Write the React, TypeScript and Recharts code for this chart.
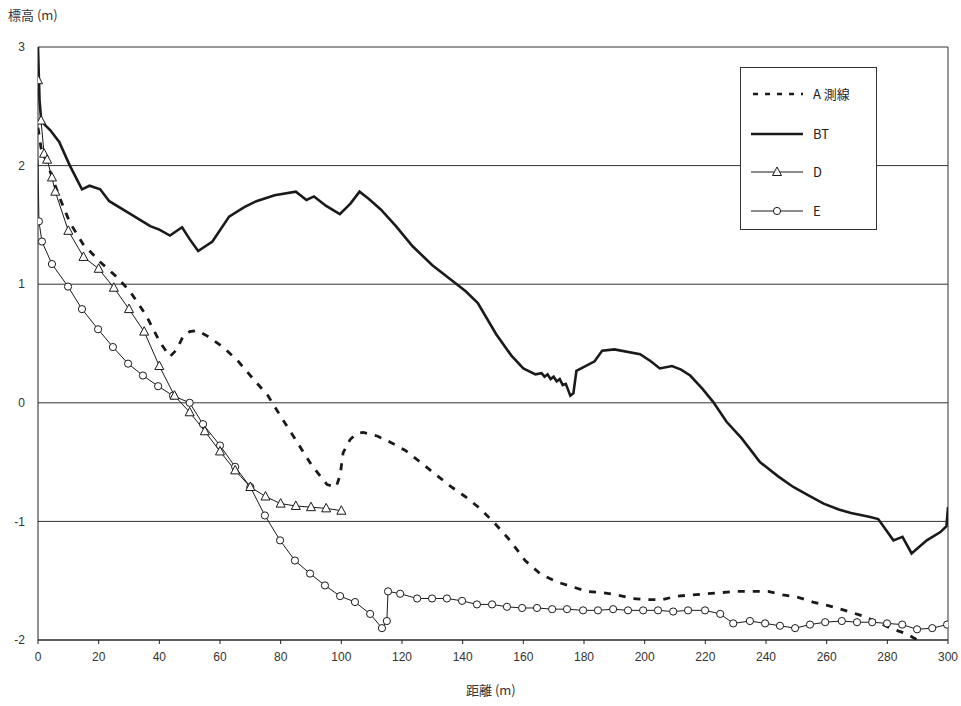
import { LineChart, Line, XAxis, YAxis, CartesianGrid, ReferenceLine, Legend } from 'recharts';

// 距離 (m) の目盛りと 標高 (m) の目盛り
const xTicks = [0, 20, 40, 60, 80, 100, 120, 140, 160, 180, 200, 220, 240, 260, 280, 300];
const yTicks = [-2, -1, 0, 1, 2, 3];

// A 測線 (破線)
const aDist = [0, 1, 4, 7.3, 10.5, 14.8, 20.4, 26, 30.3, 35.6, 40.2, 43.5, 45.8, 47.8, 50, 52.4, 56, 61, 66, 71, 75.8, 80.4, 85.4, 90.3, 95.3, 98.3, 99.6, 100.6, 102.9, 105, 107.2, 111.8, 116, 121, 126, 130.9, 135.8, 140.8, 145.7, 150.7, 155.6, 160.6, 165.5, 171, 176, 181, 186, 191, 196, 200.8, 205.7, 210.7, 215.6, 220.6, 225.5, 230.5, 235.7, 240.7, 245.6, 250.6, 255.5, 260.5, 266, 271, 276, 281, 286.5, 292];
const aElev = [2.32, 2.15, 1.95, 1.72, 1.52, 1.34, 1.19, 1.06, 0.94, 0.74, 0.51, 0.39, 0.45, 0.56, 0.6, 0.61, 0.56, 0.47, 0.35, 0.2, 0.06, -0.13, -0.33, -0.53, -0.69, -0.71, -0.61, -0.42, -0.31, -0.26, -0.25, -0.28, -0.33, -0.4, -0.5, -0.6, -0.7, -0.79, -0.89, -1.02, -1.16, -1.33, -1.44, -1.51, -1.55, -1.59, -1.6, -1.62, -1.65, -1.66, -1.66, -1.63, -1.62, -1.61, -1.6, -1.59, -1.59, -1.59, -1.62, -1.64, -1.68, -1.71, -1.75, -1.79, -1.84, -1.9, -1.95, -2.03];

// BT (太線)
const btDist = [0, 0.5, 1, 2, 4, 7, 10.5, 14.5, 17, 20.5, 23.5, 30, 37, 40, 43.5, 47.5, 50, 52.8, 57.5, 63, 68, 72, 78, 85, 88.5, 91, 95, 99.5, 103, 106, 109, 113, 118, 123.5, 130, 137, 141, 145, 151, 156, 160, 164, 166, 167, 168, 169, 170, 171, 172, 173, 174, 175.5, 176.5, 177.5, 183.5, 186, 190, 198.5, 202, 205, 209, 212, 215, 219, 222.5, 227, 232, 238, 244, 249, 254, 259, 264, 268, 274, 277, 282, 285, 288, 293, 297.5, 299.5, 300];
const btElev = [3.0, 2.55, 2.4, 2.35, 2.3, 2.2, 2.0, 1.8, 1.83, 1.8, 1.7, 1.6, 1.49, 1.46, 1.41, 1.48, 1.38, 1.28, 1.36, 1.57, 1.65, 1.7, 1.75, 1.78, 1.71, 1.74, 1.66, 1.59, 1.68, 1.78, 1.72, 1.63, 1.49, 1.32, 1.16, 1.02, 0.94, 0.84, 0.58, 0.4, 0.29, 0.24, 0.25, 0.22, 0.24, 0.2, 0.22, 0.18, 0.2, 0.15, 0.16, 0.06, 0.08, 0.27, 0.35, 0.44, 0.45, 0.41, 0.35, 0.29, 0.31, 0.28, 0.23, 0.12, 0.01, -0.16, -0.3, -0.5, -0.62, -0.71, -0.78, -0.85, -0.9, -0.93, -0.96, -0.98, -1.16, -1.13, -1.27, -1.16, -1.09, -1.04, -0.88];

// D (三角)
const dDist = [0, 1, 2, 3, 4.6, 5.7, 10, 15, 20, 25, 30, 35, 40, 45, 50, 55, 60, 65, 70, 75, 80, 85, 90, 95, 100];
const dElev = [2.72, 2.38, 2.1, 2.05, 1.9, 1.78, 1.45, 1.23, 1.13, 0.97, 0.79, 0.6, 0.31, 0.06, -0.08, -0.24, -0.41, -0.57, -0.71, -0.79, -0.85, -0.87, -0.88, -0.89, -0.91];

// E (丸)
const eDist = [0, 0.3, 1.3, 4.6, 9.9, 14.5, 19.8, 24.7, 29.7, 34.6, 39.6, 44.5, 50, 54.4, 60, 65, 70, 74.8, 79.8, 84.7, 89.7, 94.6, 99.6, 104.5, 109.5, 113.4, 115, 115.4, 119.4, 125, 129.9, 134.8, 139.8, 144.7, 149.7, 154.6, 159.6, 164.5, 169.5, 174.4, 179.7, 184.6, 189.6, 194.5, 199.5, 204.4, 209.4, 214.3, 219.9, 224.9, 229.2, 234.7, 239.7, 244.6, 249.6, 254.5, 259.5, 265, 270, 275, 279.9, 284.9, 289.8, 294.8, 299.7];
const eElev = [2.05, 1.53, 1.36, 1.17, 0.98, 0.79, 0.62, 0.47, 0.33, 0.23, 0.14, 0.06, 0, -0.18, -0.36, -0.54, -0.71, -0.95, -1.16, -1.33, -1.44, -1.54, -1.63, -1.68, -1.78, -1.9, -1.84, -1.59, -1.61, -1.65, -1.65, -1.65, -1.67, -1.7, -1.7, -1.72, -1.73, -1.73, -1.74, -1.74, -1.75, -1.75, -1.74, -1.75, -1.75, -1.75, -1.76, -1.75, -1.75, -1.78, -1.86, -1.84, -1.86, -1.88, -1.9, -1.87, -1.85, -1.84, -1.85, -1.85, -1.86, -1.87, -1.91, -1.9, -1.87];

const toPoints = (dist: number[], elev: number[]) => dist.map((m, i) => ({ m, v: elev[i] }));

const INK = '#1a1a1a';
const tickFont = { fontSize: 12, fill: '#333', fontFamily: '"Liberation Sans Narrow", "Liberation Sans", sans-serif' };

const Triangle = (props: any) => {
  const { cx, cy, index } = props;
  if (cx == null || cy == null) return <g key={index} />;
  return <path key={index} d={`M${cx},${cy - 5} L${cx + 4.5},${cy + 3.5} L${cx - 4.5},${cy + 3.5} Z`} fill="#fff" stroke={INK} strokeWidth={1} />;
};

const Circle = (props: any) => {
  const { cx, cy, index } = props;
  // 始点には印がない
  if (cx == null || cy == null || index === 0) return <g key={index} />;
  return <circle key={index} cx={cx} cy={cy} r={3.6} fill="#fff" stroke={INK} strokeWidth={1} />;
};

function Hanrei() {
  const rowText = { position: 'absolute' as const, left: 72, fontSize: 13, fontFamily: '"Noto Sans CJK JP", sans-serif', color: '#222', lineHeight: '16px' };
  return (
    <div style={{ position: 'relative', width: 137, height: 163, border: '1px solid #333', background: '#fff', boxSizing: 'border-box' }}>
      <svg width={137} height={163} style={{ position: 'absolute', left: 0, top: 0 }}>
        <line x1={12} x2={62} y1={26} y2={26} stroke={INK} strokeWidth={2.5} strokeDasharray="5 7" />
        <line x1={10} x2={62} y1={66} y2={66} stroke={INK} strokeWidth={2.5} />
        <line x1={10} x2={62} y1={104} y2={104} stroke={INK} strokeWidth={1} />
        <path d="M36,99 L40.5,107.5 L31.5,107.5 Z" fill="#fff" stroke={INK} />
        <line x1={10} x2={62} y1={143} y2={143} stroke={INK} strokeWidth={1} />
        <circle cx={36} cy={143} r={3.6} fill="#fff" stroke={INK} />
      </svg>
      <span style={{ ...rowText, top: 18 }}>A 測線</span>
      <span style={{ ...rowText, top: 58 }}>BT</span>
      <span style={{ ...rowText, top: 96 }}>D</span>
      <span style={{ ...rowText, top: 135 }}>E</span>
    </div>
  );
}

export default function App() {
  const titleStyle = { position: 'absolute' as const, fontSize: 13, color: '#333', fontFamily: '"Noto Sans CJK JP", sans-serif' };
  return (
    <div style={{ position: 'absolute', left: 0, top: 0, width: 961, height: 706, background: '#fff' }}>
      <div style={{ ...titleStyle, left: 8, top: 5 }}>標高 (m)</div>
      <div style={{ ...titleStyle, left: 466, top: 680 }}>距離 (m)</div>
      <LineChart width={961} height={706} margin={{ top: 47, right: 13, left: 8, bottom: 36 }}>
        <CartesianGrid vertical={false} stroke="#333" strokeWidth={1} />
        <XAxis
          dataKey="m"
          type="number"
          domain={[0, 300]}
          ticks={xTicks}
          allowDataOverflow
          height={30}
          stroke="#222"
          tickSize={4}
          tickMargin={8}
          tick={tickFont}
          interval={0}
        />
        <YAxis
          type="number"
          domain={[-2, 3]}
          ticks={yTicks}
          allowDataOverflow
          width={30}
          stroke="#222"
          tickLine={false}
          tickSize={6}
          tickMargin={7}
          tick={tickFont}
          interval={0}
        />
        <ReferenceLine x={300} stroke="#333" strokeWidth={1} />
        <Legend
          layout="vertical"
          align="center"
          verticalAlign="middle"
          wrapperStyle={{ position: 'absolute', left: 740, top: 67, width: 137, height: 163 }}
          content={() => <Hanrei />}
        />
        <Line data={toPoints(eDist, eElev)} dataKey="v" name="E" type="linear" stroke={INK} strokeWidth={1} dot={Circle} activeDot={false} isAnimationActive={false} />
        <Line data={toPoints(dDist, dElev)} dataKey="v" name="D" type="linear" stroke={INK} strokeWidth={1} dot={Triangle} activeDot={false} isAnimationActive={false} />
        <Line data={toPoints(aDist, aElev)} dataKey="v" name="A 測線" type="linear" stroke={INK} strokeWidth={2.8} strokeDasharray="7 8" dot={false} activeDot={false} isAnimationActive={false} />
        <Line data={toPoints(btDist, btElev)} dataKey="v" name="BT" type="linear" stroke={INK} strokeWidth={2.6} dot={false} activeDot={false} isAnimationActive={false} />
      </LineChart>
    </div>
  );
}
